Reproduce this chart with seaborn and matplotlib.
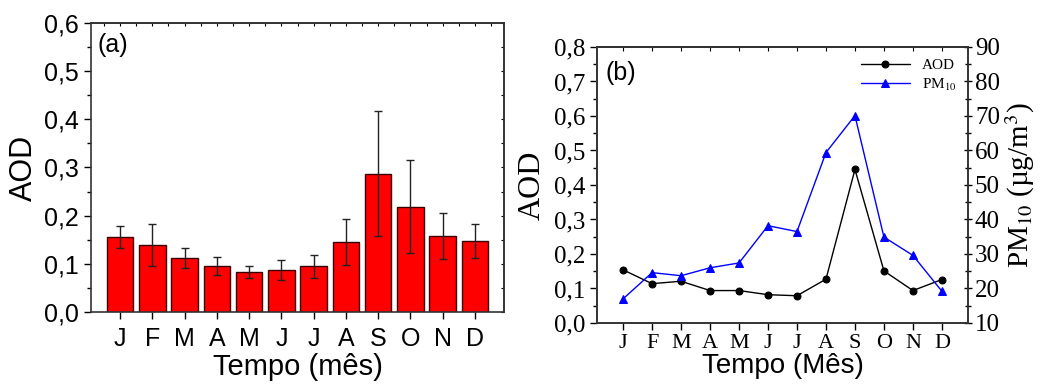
import numpy as np
import matplotlib
matplotlib.use('Agg')
import matplotlib.pyplot as plt
import seaborn as sns
from matplotlib.ticker import MultipleLocator, FuncFormatter

months = ['J', 'F', 'M', 'A', 'M', 'J', 'J', 'A', 'S', 'O', 'N', 'D']

# (a) mean monthly AOD with standard deviation
aod_mean = [0.155, 0.139, 0.112, 0.095, 0.083, 0.087, 0.095, 0.145, 0.287, 0.219, 0.157, 0.147]
aod_std = [0.023, 0.043, 0.021, 0.019, 0.012, 0.020, 0.024, 0.048, 0.130, 0.097, 0.048, 0.035]

# (b) AOD and PM10 monthly series
aod_line = [0.154, 0.114, 0.121, 0.094, 0.094, 0.082, 0.079, 0.127, 0.445, 0.151, 0.094, 0.126]
pm10_line = [17.0, 24.6, 23.7, 26.0, 27.4, 38.2, 36.5, 59.4, 70.1, 34.9, 29.6, 19.2]

sns.set_style('ticks')
plt.rcParams['font.family'] = ['Liberation Sans', 'DejaVu Sans']
plt.rcParams['mathtext.fontset'] = 'stix'
plt.rcParams['axes.linewidth'] = 1.2
for k in ('text.color', 'axes.labelcolor', 'xtick.color', 'ytick.color'):
    plt.rcParams[k] = 'black'

SANS = ['Liberation Sans', 'DejaVu Sans']
SERIF = ['Liberation Serif', 'DejaVu Serif']
comma = FuncFormatter(lambda v, p: f"{v:.1f}".replace('.', ','))

fig = plt.figure(figsize=(10.45, 3.87), dpi=100)
ax1 = fig.add_axes([0.0871, 0.1938, 0.3952, 0.7468])
ax2 = fig.add_axes([0.5713, 0.1654, 0.3550, 0.7132])

x = np.arange(len(months))

# ---- panel (a)
sns.barplot(x=x, y=aod_mean, color='#ff0000', saturation=1, edgecolor='#3a0000',
            linewidth=1.0, width=0.82, ax=ax1)
ax1.errorbar(x, aod_mean, yerr=aod_std, fmt='none', ecolor='#222222',
             elinewidth=1.0, capsize=3, capthick=1.0)
ax1.set_xlim(-0.9, 11.9)
ax1.set_ylim(0, 0.6)
ax1.yaxis.set_major_locator(MultipleLocator(0.1))
ax1.yaxis.set_minor_locator(MultipleLocator(0.05))
ax1.yaxis.set_major_formatter(comma)
ax1.set_xticks(x)
ax1.set_xticklabels(months)
ax1.tick_params(axis='both', which='major', labelsize=18, length=5, width=1.0)
ax1.tick_params(axis='x', pad=6)
ax1.tick_params(axis='y', which='minor', length=3, width=1.0)
ax1.set_xlabel('Tempo (mês)', fontsize=21, labelpad=1)
ax1.set_ylabel('AOD', fontsize=22, labelpad=4)
ax1.text(0.015, 0.925, '(a)', transform=ax1.transAxes, fontsize=18, va='center', ha='left')
top1 = ax1.secondary_xaxis('top')
top1.set_xticks(np.arange(-0.5, 12, 0.5))
top1.tick_params(direction='in', length=2, labeltop=False)
right1 = ax1.secondary_yaxis('right')
right1.set_yticks(np.arange(0, 0.61, 0.05))
right1.tick_params(direction='in', length=2, labelright=False)
for a in (ax1, top1, right1):
    for s in a.spines.values():
        s.set_color('#333333')

# ---- panel (b)
sns.lineplot(x=x, y=aod_line, color='black', marker='o', markersize=5,
             markeredgecolor='black', linewidth=1.0, label='AOD', ax=ax2)
ax3 = ax2.twinx()
sns.lineplot(x=x, y=pm10_line, color='#0000ff', marker='^', markersize=6,
             markeredgecolor='#0000ff', linewidth=1.0, label='PM$_{10}$', ax=ax3)
ax2.get_legend().remove()
ax3.get_legend().remove()

ax2.set_xlim(-0.9, 11.9)
ax2.set_ylim(0, 0.8)
ax3.set_ylim(10, 90)
ax2.yaxis.set_major_locator(MultipleLocator(0.1))
ax2.yaxis.set_minor_locator(MultipleLocator(0.05))
ax2.yaxis.set_major_formatter(comma)
ax3.yaxis.set_major_locator(MultipleLocator(10))
ax3.yaxis.set_minor_locator(MultipleLocator(5))
ax2.set_xticks(x)
ax2.set_xticklabels(months)
ax2.tick_params(axis='both', which='major', labelsize=18, length=5, width=1.0)
ax2.tick_params(axis='x', labelsize=16, pad=3)
ax2.tick_params(axis='y', which='minor', length=3, width=1.0)
ax3.tick_params(axis='y', which='major', labelsize=18, length=6, width=1.0,
                direction='inout', pad=2)
ax3.tick_params(axis='y', which='minor', length=4, width=1.0, direction='inout')
for lab in ax2.get_xticklabels() + ax2.get_yticklabels() + ax3.get_yticklabels():
    lab.set_family(SERIF)
top2 = ax2.secondary_xaxis('top')
top2.set_xticks(x)
top2.tick_params(direction='in', length=3, labeltop=False)

ax2.set_xlabel('Tempo (Mês)', fontsize=20, labelpad=0, family=SANS)
ax2.set_ylabel('AOD', fontsize=23, labelpad=5, family=SERIF)
ax3.set_ylabel('PM$_{10}$ (µg/m$^3$)', fontsize=21, labelpad=3, family=SERIF)
ax2.text(0.022, 0.905, '(b)', transform=ax2.transAxes, fontsize=18, va='center', ha='left')

h1, l1 = ax2.get_legend_handles_labels()
h2, l2 = ax3.get_legend_handles_labels()
ax3.legend(h1 + h2, l1 + l2, loc='upper right', frameon=False,
           prop={'family': SERIF, 'size': 11}, handlelength=3.2,
           borderaxespad=0.35, labelspacing=0.3)
for a in (ax2, ax3, top2):
    for s in a.spines.values():
        s.set_color('#333333')
        s.set_visible(True)

fig.savefig('out.png', dpi=100)
